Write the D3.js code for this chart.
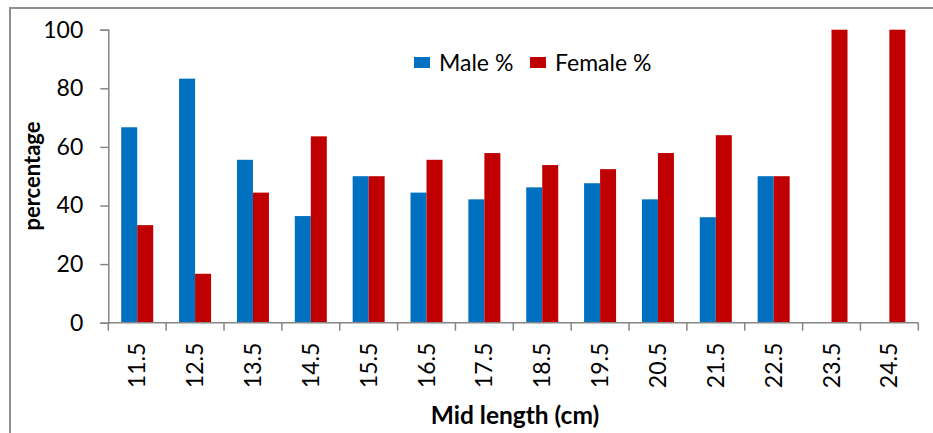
<!DOCTYPE html>
<html>
<head>
<meta charset="utf-8">
<script src="https://cdn.jsdelivr.net/npm/d3@7"></script>
<style>
  html, body { margin: 0; padding: 0; background: #fff; }
  svg { display: block; font-family: Lato, "Open Sans", sans-serif; }
</style>
</head>
<body>
<svg id="chart" width="933" height="433"></svg>
<script>
// Mid-length classes (cm) and sex ratio per class
const categories = ["11.5", "12.5", "13.5", "14.5", "15.5", "16.5", "17.5", "18.5", "19.5", "20.5", "21.5", "22.5", "23.5", "24.5"];
const malePct   = [66.7, 83.3, 55.6, 36.4, 50, 44.4, 42.1, 46.2, 47.6, 42.1, 36, 50, 0, 0];
const femalePct = [33.3, 16.7, 44.4, 63.6, 50, 55.6, 57.9, 53.8, 52.4, 57.9, 64, 50, 100, 100];
const seriesNames = ["Male %", "Female %"];
const seriesColors = ["#0070C0", "#C00000"];
const yTicks = [0, 20, 40, 60, 80, 100];

const svg = d3.select("#chart");
const W = 933, H = 433;

// outer frame
svg.append("rect")
  .attr("x", 10).attr("y", 8)
  .attr("width", W + 20).attr("height", H + 20)
  .attr("fill", "none").attr("stroke", "#8f8f8f").attr("stroke-width", 2);

const x = d3.scaleBand().domain(categories).range([108.3, 918.3]).paddingInner(0).paddingOuter(0);
const y = d3.scaleLinear().domain([0, 100]).range([322.7, 29.7]);
const xs = d3.scaleBand().domain([0, 1]).range([0, 32]);
const groupOffset = (x.bandwidth() - 32) / 2;

const rows = categories.map((c, i) => ({ c, vals: [malePct[i], femalePct[i]] }));

const groups = svg.append("g").selectAll("g").data(rows).join("g")
  .attr("transform", d => `translate(${x(d.c) + groupOffset},0)`);
groups.selectAll("rect").data(d => d.vals.map((v, k) => ({ v, k })).filter(e => e.v > 0)).join("rect")
  .attr("x", e => xs(e.k))
  .attr("width", xs.bandwidth())
  .attr("y", e => y(e.v))
  .attr("height", e => y(0) - y(e.v))
  .attr("fill", e => seriesColors[e.k]);

// y axis
const yAxis = svg.append("g").attr("transform", "translate(108.3,0)")
  .call(d3.axisLeft(y).tickValues(yTicks).tickSize(8).tickPadding(17).tickFormat(d3.format("d")));
yAxis.select(".domain").attr("stroke", "#868686").attr("stroke-width", 1.5);
yAxis.selectAll(".tick line").attr("stroke", "#868686").attr("stroke-width", 1.5);
yAxis.selectAll(".tick text").attr("font-size", 23).attr("fill", "#000").attr("font-family", "Lato");

// x axis with ticks on category boundaries
const xAxisG = svg.append("g").attr("transform", `translate(0,${y(0)})`);
xAxisG.append("line")
  .attr("x1", x.range()[0]).attr("x2", x.range()[1])
  .attr("stroke", "#868686").attr("stroke-width", 1.5);
const bounds = categories.map(c => x(c)).concat([x.range()[1]]);
xAxisG.selectAll("line.tk").data(bounds).join("line").attr("class", "tk")
  .attr("x1", d => d).attr("x2", d => d).attr("y1", 0).attr("y2", 8)
  .attr("stroke", "#868686").attr("stroke-width", 1.5);
xAxisG.selectAll("text").data(categories).join("text")
  .attr("transform", d => `translate(${x(d) + x.bandwidth() / 2 + 8},20) rotate(-90)`)
  .attr("text-anchor", "end")
  .attr("font-size", 23).attr("fill", "#000")
  .text(d => d);

// axis titles
svg.append("text")
  .attr("transform", "translate(40,176) rotate(-90)")
  .attr("text-anchor", "middle").attr("font-size", 22).attr("font-weight", "bold")
  .text("percentage");
svg.append("text")
  .attr("x", 515).attr("y", 424)
  .attr("text-anchor", "middle").attr("font-size", 24.5).attr("font-weight", "bold")
  .text("Mid length (cm)");

// legend
const legendX = [414, 530];
const lg = svg.append("g").selectAll("g").data(seriesNames).join("g")
  .attr("transform", (d, i) => `translate(${legendX[i]},57)`);
lg.append("rect").attr("width", 16).attr("height", 11).attr("fill", (d, i) => seriesColors[i]);
lg.append("text").attr("x", 25).attr("y", 13.5).attr("font-size", 23).attr("fill", "#000").text(d => d);
</script>
</body>
</html>
